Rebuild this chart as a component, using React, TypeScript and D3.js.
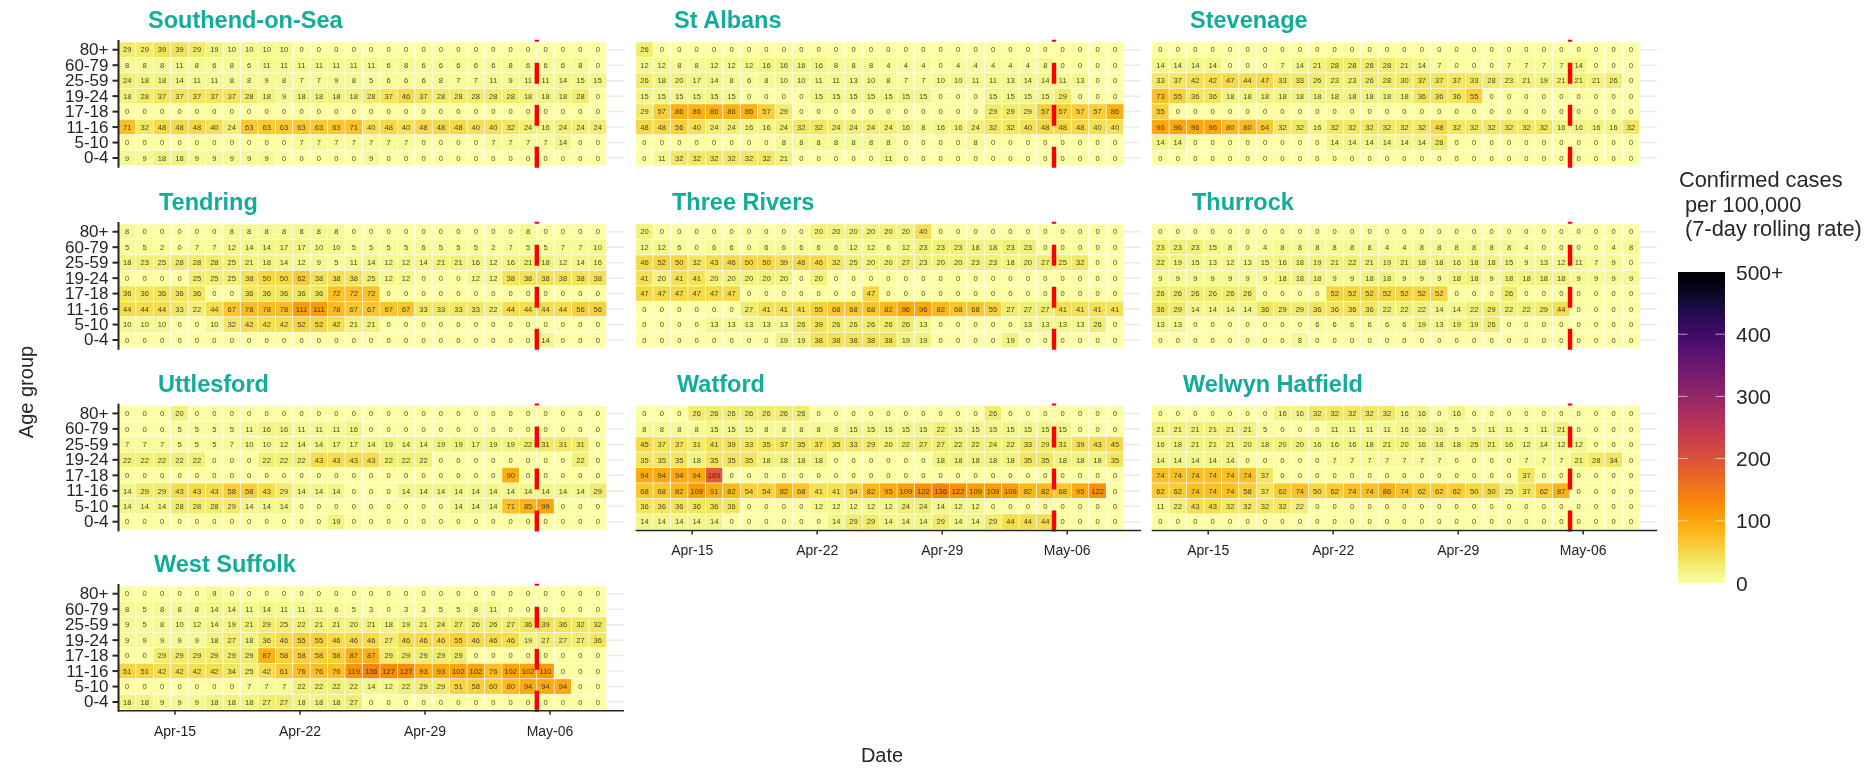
import React, { useEffect, useRef } from 'react';
import * as d3 from 'd3';

const ageGroups = ['80+', '60-79', '25-59', '19-24', '17-18', '11-16', '5-10', '0-4'];
const zeros = [0, 0, 0, 0, 0, 0, 0, 0, 0, 0, 0, 0, 0, 0, 0, 0, 0, 0, 0, 0, 0, 0, 0, 0, 0, 0, 0, 0];

// one row per age group, one value per day (Apr-12 to May-09)
const southend = [
  [29, 29, 39, 39, 29, 19, 10, 10, 10, 10, 0, 0, 0, 0, 0, 0, 0, 0, 0, 0, 0, 0, 0, 0, 0, 0, 0, 0],
  [8, 8, 8, 11, 8, 6, 8, 6, 11, 11, 11, 11, 11, 11, 11, 6, 8, 6, 6, 6, 6, 6, 8, 6, 6, 6, 8, 0],
  [24, 18, 18, 14, 11, 11, 8, 8, 9, 8, 7, 7, 9, 8, 5, 6, 6, 6, 8, 7, 7, 11, 9, 11, 11, 14, 15, 15],
  [18, 28, 37, 37, 37, 37, 37, 28, 18, 9, 18, 18, 18, 18, 28, 37, 46, 37, 28, 28, 28, 28, 28, 18, 18, 18, 28, 0],
  zeros,
  [71, 32, 48, 48, 48, 40, 24, 63, 63, 63, 63, 63, 63, 71, 40, 48, 40, 48, 48, 48, 40, 40, 32, 24, 16, 24, 24, 24],
  [0, 0, 0, 0, 0, 0, 0, 0, 0, 0, 7, 7, 7, 7, 7, 7, 7, 0, 0, 0, 0, 7, 7, 7, 7, 14, 0, 0],
  [9, 9, 18, 18, 9, 9, 9, 9, 9, 0, 0, 0, 0, 0, 9, 0, 0, 0, 0, 0, 0, 0, 0, 0, 0, 0, 0, 0],
];
const stAlbans = [
  [26, 0, 0, 0, 0, 0, 0, 0, 0, 0, 0, 0, 0, 0, 0, 0, 0, 0, 0, 0, 0, 0, 0, 0, 0, 0, 0, 0],
  [12, 12, 8, 8, 12, 12, 12, 16, 16, 16, 16, 8, 8, 8, 4, 4, 4, 0, 4, 4, 4, 4, 4, 8, 0, 0, 0, 0],
  [26, 18, 20, 17, 14, 8, 6, 8, 10, 10, 11, 11, 13, 10, 8, 7, 7, 10, 10, 11, 11, 13, 14, 14, 11, 13, 0, 0],
  [15, 15, 15, 15, 15, 15, 0, 0, 0, 0, 15, 15, 15, 15, 15, 15, 15, 0, 0, 0, 15, 15, 15, 15, 29, 0, 0, 0],
  [29, 57, 86, 86, 86, 86, 86, 57, 29, 0, 0, 0, 0, 0, 0, 0, 0, 0, 0, 0, 29, 29, 29, 57, 57, 57, 57, 86],
  [48, 48, 56, 40, 24, 24, 16, 16, 24, 32, 32, 24, 24, 24, 24, 16, 8, 16, 16, 24, 32, 32, 40, 48, 48, 48, 40, 40],
  [0, 0, 0, 0, 0, 0, 0, 0, 8, 8, 8, 8, 8, 8, 8, 0, 0, 0, 0, 8, 0, 0, 0, 0, 0, 0, 0, 0],
  [0, 11, 32, 32, 32, 32, 32, 32, 21, 0, 0, 0, 0, 0, 11, 0, 0, 0, 0, 0, 0, 0, 0, 0, 0, 0, 0, 0],
];
const stevenage = [
  zeros,
  [14, 14, 14, 14, 0, 0, 0, 7, 14, 21, 28, 28, 28, 28, 21, 14, 7, 0, 0, 0, 7, 7, 7, 7, 14, 0, 0, 0],
  [33, 37, 42, 42, 47, 44, 47, 33, 33, 26, 23, 23, 26, 28, 30, 37, 37, 37, 33, 28, 23, 21, 19, 21, 21, 21, 26, 0],
  [73, 55, 36, 36, 18, 18, 18, 18, 18, 18, 18, 18, 18, 18, 18, 36, 36, 36, 55, 0, 0, 0, 0, 0, 0, 0, 0, 0],
  [55, 0, 0, 0, 0, 0, 0, 0, 0, 0, 0, 0, 0, 0, 0, 0, 0, 0, 0, 0, 0, 0, 0, 0, 0, 0, 0, 0],
  [96, 96, 96, 96, 80, 80, 64, 32, 32, 16, 32, 32, 32, 32, 32, 32, 48, 32, 32, 32, 32, 32, 32, 16, 16, 16, 16, 32],
  [14, 14, 0, 0, 0, 0, 0, 0, 0, 0, 14, 14, 14, 14, 14, 14, 28, 0, 0, 0, 0, 0, 0, 0, 0, 0, 0, 0],
  zeros,
];
const tendring = [
  [8, 0, 0, 0, 0, 0, 8, 8, 8, 8, 8, 8, 8, 0, 0, 0, 0, 0, 0, 0, 0, 0, 0, 8, 0, 0, 0, 0],
  [5, 5, 2, 0, 7, 7, 12, 14, 14, 17, 17, 10, 10, 5, 5, 5, 5, 6, 5, 5, 5, 2, 7, 5, 5, 7, 7, 10],
  [18, 23, 25, 28, 28, 28, 25, 21, 18, 14, 12, 9, 5, 11, 14, 12, 12, 14, 21, 21, 16, 12, 16, 21, 18, 12, 14, 16],
  [0, 0, 0, 0, 25, 25, 25, 38, 50, 50, 62, 38, 38, 38, 25, 12, 12, 0, 0, 0, 12, 12, 38, 38, 38, 38, 38, 38],
  [36, 36, 36, 36, 36, 0, 0, 36, 36, 36, 36, 36, 72, 72, 72, 0, 0, 0, 0, 0, 0, 0, 0, 0, 0, 0, 0, 0],
  [44, 44, 44, 33, 22, 44, 67, 78, 78, 78, 111, 111, 78, 67, 67, 67, 67, 33, 33, 33, 33, 22, 44, 44, 44, 44, 56, 56],
  [10, 10, 10, 0, 0, 10, 32, 42, 42, 42, 52, 52, 42, 21, 21, 0, 0, 0, 0, 0, 0, 0, 0, 0, 0, 0, 0, 0],
  [0, 0, 0, 0, 0, 0, 0, 0, 0, 0, 0, 0, 0, 0, 0, 0, 0, 0, 0, 0, 0, 0, 0, 0, 14, 0, 0, 0],
];
const threeRivers = [
  [20, 0, 0, 0, 0, 0, 0, 0, 0, 0, 20, 20, 20, 20, 20, 20, 40, 0, 0, 0, 0, 0, 0, 0, 0, 0, 0, 0],
  [12, 12, 6, 0, 6, 6, 0, 6, 6, 6, 6, 6, 12, 12, 6, 12, 23, 23, 23, 18, 18, 23, 23, 0, 0, 0, 0, 0],
  [46, 52, 50, 32, 43, 46, 50, 50, 39, 46, 46, 32, 25, 20, 20, 27, 23, 20, 20, 23, 23, 18, 20, 27, 25, 32, 0, 0],
  [41, 20, 41, 41, 20, 20, 20, 20, 20, 0, 20, 0, 0, 0, 0, 0, 0, 0, 0, 0, 0, 0, 0, 0, 0, 0, 0, 0],
  [47, 47, 47, 47, 47, 47, 0, 0, 0, 0, 0, 0, 0, 47, 0, 0, 0, 0, 0, 0, 0, 0, 0, 0, 0, 0, 0, 0],
  [0, 0, 0, 0, 0, 0, 27, 41, 41, 41, 55, 68, 68, 68, 82, 96, 96, 82, 68, 68, 55, 27, 27, 27, 41, 41, 41, 41],
  [0, 0, 0, 0, 13, 13, 13, 13, 13, 26, 39, 26, 26, 26, 26, 26, 13, 0, 0, 0, 0, 0, 13, 13, 13, 13, 26, 0],
  [0, 0, 0, 0, 0, 0, 0, 0, 19, 19, 38, 38, 38, 38, 38, 19, 19, 0, 0, 0, 0, 19, 0, 0, 0, 0, 0, 0],
];
const thurrock = [
  zeros,
  [23, 23, 23, 15, 8, 0, 4, 8, 8, 8, 8, 8, 8, 4, 4, 8, 8, 8, 8, 8, 8, 4, 0, 0, 0, 0, 4, 8],
  [22, 19, 15, 13, 12, 13, 15, 16, 18, 19, 21, 22, 21, 19, 21, 18, 18, 16, 18, 18, 15, 9, 13, 12, 11, 7, 9, 0],
  [9, 9, 9, 9, 9, 9, 9, 18, 18, 18, 9, 9, 18, 18, 9, 9, 9, 18, 18, 9, 18, 18, 18, 18, 9, 9, 9, 9],
  [26, 26, 26, 26, 26, 26, 0, 0, 0, 0, 52, 52, 52, 52, 52, 52, 52, 0, 0, 0, 26, 0, 0, 0, 0, 0, 0, 0],
  [36, 29, 14, 14, 14, 14, 36, 29, 29, 36, 36, 36, 36, 22, 22, 22, 14, 14, 22, 29, 22, 22, 29, 44, 0, 0, 0, 0],
  [13, 13, 0, 0, 0, 0, 0, 0, 0, 6, 6, 6, 6, 6, 6, 19, 13, 19, 19, 26, 0, 0, 0, 0, 0, 0, 0, 0],
  [0, 0, 0, 0, 0, 0, 0, 0, 8, 0, 0, 0, 0, 0, 0, 0, 0, 0, 0, 0, 0, 0, 0, 0, 0, 0, 0, 0],
];
const uttlesford = [
  [0, 0, 0, 20, 0, 0, 0, 0, 0, 0, 0, 0, 0, 0, 0, 0, 0, 0, 0, 0, 0, 0, 0, 0, 0, 0, 0, 0],
  [0, 0, 0, 5, 5, 5, 5, 11, 16, 16, 11, 11, 11, 16, 0, 0, 0, 0, 0, 0, 0, 0, 0, 0, 0, 0, 0, 0],
  [7, 7, 7, 5, 5, 5, 7, 10, 10, 12, 14, 14, 17, 17, 14, 19, 14, 14, 19, 19, 17, 19, 19, 22, 31, 31, 31, 0],
  [22, 22, 22, 22, 22, 0, 0, 0, 22, 22, 22, 43, 43, 43, 43, 22, 22, 22, 0, 0, 0, 0, 0, 0, 0, 0, 22, 0],
  [0, 0, 0, 0, 0, 0, 0, 0, 0, 0, 0, 0, 0, 0, 0, 0, 0, 0, 0, 0, 0, 0, 90, 0, 0, 0, 0, 0],
  [14, 29, 29, 43, 43, 43, 58, 58, 43, 29, 14, 14, 14, 0, 0, 0, 14, 14, 14, 14, 14, 14, 14, 14, 14, 14, 14, 29],
  [14, 14, 14, 28, 28, 28, 29, 14, 14, 14, 0, 0, 0, 0, 0, 0, 0, 0, 0, 14, 14, 14, 71, 85, 99, 0, 0, 0],
  [0, 0, 0, 0, 0, 0, 0, 0, 0, 0, 0, 0, 19, 0, 0, 0, 0, 0, 0, 0, 0, 0, 0, 0, 0, 0, 0, 0],
];
const watford = [
  [0, 0, 0, 26, 26, 26, 26, 26, 26, 26, 0, 0, 0, 0, 0, 0, 0, 0, 0, 0, 26, 0, 0, 0, 0, 0, 0, 0],
  [8, 8, 8, 8, 15, 15, 15, 8, 8, 8, 8, 8, 15, 15, 15, 15, 15, 22, 15, 15, 15, 15, 15, 15, 15, 0, 0, 0],
  [45, 37, 37, 31, 41, 39, 33, 35, 37, 35, 37, 35, 33, 29, 20, 22, 27, 27, 22, 22, 24, 22, 33, 29, 31, 39, 43, 45],
  [35, 35, 35, 18, 35, 35, 35, 18, 18, 18, 18, 0, 0, 0, 0, 0, 0, 18, 18, 18, 18, 18, 35, 35, 18, 18, 18, 35],
  [94, 94, 94, 94, 189, 0, 0, 0, 0, 0, 0, 0, 0, 0, 0, 0, 0, 0, 0, 0, 0, 0, 0, 0, 0, 0, 0, 0],
  [68, 68, 82, 109, 91, 82, 54, 54, 82, 68, 41, 41, 54, 82, 95, 109, 122, 136, 122, 109, 109, 109, 82, 82, 68, 95, 122, 0],
  [36, 36, 36, 36, 36, 36, 0, 0, 0, 0, 12, 12, 12, 12, 12, 24, 24, 14, 12, 12, 0, 0, 0, 0, 0, 0, 0, 0],
  [14, 14, 14, 14, 14, 0, 0, 0, 0, 0, 0, 14, 29, 29, 14, 14, 14, 29, 14, 14, 29, 44, 44, 44, 0, 0, 0, 0],
];
const welwynHatfield = [
  [0, 0, 0, 0, 0, 0, 0, 16, 16, 32, 32, 32, 32, 32, 16, 16, 0, 16, 0, 0, 0, 0, 0, 0, 0, 0, 0, 0],
  [21, 21, 21, 21, 21, 21, 5, 0, 0, 0, 11, 11, 11, 11, 16, 16, 16, 5, 5, 11, 11, 5, 11, 21, 0, 0, 0, 0],
  [16, 18, 21, 21, 21, 20, 18, 20, 20, 16, 16, 16, 18, 21, 20, 16, 18, 18, 25, 21, 16, 12, 14, 12, 12, 0, 0, 0],
  [14, 14, 14, 14, 14, 0, 0, 0, 0, 0, 7, 7, 7, 7, 7, 7, 7, 0, 0, 0, 0, 7, 7, 7, 21, 28, 34, 0],
  [74, 74, 74, 74, 74, 74, 37, 0, 0, 0, 0, 0, 0, 0, 0, 0, 0, 0, 0, 0, 0, 37, 0, 0, 0, 0, 0, 0],
  [62, 62, 74, 74, 74, 58, 37, 62, 74, 50, 62, 74, 74, 86, 74, 62, 62, 62, 50, 50, 25, 37, 62, 87, 0, 0, 0, 0],
  [11, 22, 43, 43, 32, 32, 32, 32, 22, 0, 0, 0, 0, 0, 0, 0, 0, 0, 0, 0, 0, 0, 0, 0, 0, 0, 0, 0],
  zeros,
];
const westSuffolk = [
  [0, 0, 0, 0, 0, 9, 0, 0, 0, 0, 0, 0, 0, 0, 0, 0, 0, 0, 0, 0, 0, 0, 0, 0, 0, 0, 0, 0],
  [8, 5, 8, 8, 8, 14, 14, 11, 14, 11, 11, 11, 6, 5, 3, 0, 3, 3, 5, 5, 8, 11, 0, 0, 0, 0, 0, 0],
  [9, 5, 8, 10, 12, 14, 19, 21, 29, 25, 22, 21, 21, 20, 21, 18, 19, 21, 24, 27, 26, 26, 27, 36, 39, 36, 32, 32],
  [9, 9, 9, 9, 9, 18, 27, 18, 36, 46, 55, 55, 46, 46, 46, 27, 46, 46, 46, 55, 46, 46, 46, 19, 27, 27, 27, 36],
  [0, 0, 29, 29, 29, 29, 29, 29, 87, 58, 58, 58, 58, 87, 87, 29, 29, 29, 29, 29, 0, 0, 0, 0, 0, 0, 0, 0],
  [51, 51, 42, 42, 42, 42, 34, 25, 42, 61, 76, 76, 76, 119, 136, 127, 127, 93, 93, 102, 102, 76, 102, 102, 110, 0, 0, 0],
  [0, 0, 0, 0, 0, 0, 0, 7, 7, 7, 22, 22, 22, 22, 14, 12, 22, 29, 29, 51, 58, 60, 80, 94, 94, 94, 0, 0],
  [18, 18, 9, 9, 9, 18, 18, 18, 27, 27, 18, 18, 18, 27, 0, 0, 0, 0, 0, 0, 0, 0, 0, 0, 0, 0, 0, 0],
];

const areaNames = ['Southend-on-Sea', 'St Albans', 'Stevenage', 'Tendring', 'Three Rivers', 'Thurrock', 'Uttlesford', 'Watford', 'Welwyn Hatfield', 'West Suffolk'];
const areaRates = [southend, stAlbans, stevenage, tendring, threeRivers, thurrock, uttlesford, watford, welwynHatfield, westSuffolk];

const dateTicks = ['Apr-15', 'Apr-22', 'Apr-29', 'May-06'];
const dateTickDays = [3, 10, 17, 24];
const legendTicks = [0, 100, 200, 300, 400, 500];

// layout, in page pixels
const colLefts = [118.5, 635.7, 1151.7];
const rowTops = [42, 224, 405.7, 586];
const titleLefts = [148, 674, 1190, 159, 672, 1192, 158, 677, 1183, 154];
const dayStep = 17.43;
const rowStep = 15.47;
const font = '"Liberation Sans", Arial, sans-serif';

const fill = (v: number) => d3.interpolateInferno(1 - Math.min(v, 500) / 500);

const App: React.FC = () => {
  const svgRef = useRef<SVGSVGElement>(null);

  useEffect(() => {
    const svgElement = svgRef.current;
    if (!svgElement) return;
    const svg = d3.select(svgElement);
    svg.selectAll('*').remove();
    svg.style('font-family', font);

    areaNames.forEach((name, i) => {
      const col = i % 3;
      const row = Math.floor(i / 3);
      const left = colLefts[col];
      const top = rowTops[row];
      const rates = areaRates[i];

      // one empty band after the last day, the grid lines run on over it
      const x = d3.scaleBand<number>().domain(d3.range(29)).range([left, left + 29 * dayStep]);
      const y = d3.scaleBand<string>().domain(ageGroups).range([top, top + 8 * rowStep]);
      const bottom = top + 8 * rowStep;

      const g = svg.append('g').attr('class', 'panel');

      g.append('text')
        .attr('x', titleLefts[i])
        .attr('y', top - 14)
        .attr('fill', '#10ad9b')
        .style('font-size', '23.5px')
        .style('font-weight', 'bold')
        .text(name);

      g.selectAll('.grid')
        .data(ageGroups)
        .enter()
        .append('line')
        .attr('x1', left)
        .attr('x2', left + 29 * dayStep)
        .attr('y1', d => y(d)! + y.bandwidth() / 2)
        .attr('y2', d => y(d)! + y.bandwidth() / 2)
        .style('stroke', '#ecece0')
        .style('stroke-width', 1.5);

      rates.forEach((values, r) => {
        const age = ageGroups[r];
        const cells = g.append('g').selectAll('g').data(values).enter().append('g');
        cells.append('rect')
          .attr('x', (_, d) => x(d)!)
          .attr('y', y(age)!)
          .attr('width', x.bandwidth())
          .attr('height', y.bandwidth())
          .attr('fill', d => fill(d))
          .style('stroke', '#fff')
          .style('stroke-width', 0.7)
          .style('stroke-opacity', 0.75);
        cells.append('text')
          .attr('x', (_, d) => x(d)! + x.bandwidth() / 2)
          .attr('y', y(age)! + y.bandwidth() / 2)
          .attr('dy', '0.36em')
          .attr('text-anchor', 'middle')
          .attr('fill', '#2a2a1a')
          .style('font-size', '7.6px')
          .style('opacity', 0.85)
          .text(d => d);
      });

      // date marker, dashes counted from the bottom of the panel
      g.append('line')
        .attr('x1', x(24)!)
        .attr('x2', x(24)!)
        .attr('y1', bottom + 2)
        .attr('y2', top - 2.2)
        .style('stroke', '#ff0000')
        .style('stroke-width', 4.4)
        .style('stroke-dasharray', '21,21');

      if (col === 0) {
        const axisY = g.append('g')
          .attr('transform', `translate(${left},0)`)
          .call(d3.axisLeft(y).tickSize(6).tickPadding(4));
        axisY.selectAll('text').style('font-size', '17px').style('font-family', font).attr('fill', '#262626');
        axisY.selectAll('line').style('stroke', '#262626').style('stroke-width', 2);
        axisY.select('.domain').remove();
        g.append('line')
          .attr('x1', left)
          .attr('x2', left)
          .attr('y1', top - 2)
          .attr('y2', bottom + 2)
          .style('stroke', '#262626')
          .style('stroke-width', 2);
      }

      const hasDateAxis = i >= 7;
      if (hasDateAxis) {
        // the date labels sit on a slightly wider spacing than the cells
        const dateX = d3.scaleLinear().domain([3, 24]).range([left + 56, left + 431]);
        const axisX = g.append('g')
          .attr('transform', `translate(0,${bottom + 1})`)
          .call(d3.axisBottom(dateX)
            .tickValues(dateTickDays)
            .tickFormat(d => dateTicks[dateTickDays.indexOf(d as number)])
            .tickSize(4)
            .tickPadding(11));
        axisX.selectAll('text').style('font-size', '14px').style('font-family', font).attr('fill', '#1f1f1f');
        axisX.selectAll('line').style('stroke', '#262626').style('stroke-width', 1.5);
        axisX.select('.domain').remove();
        g.append('line')
          .attr('x1', left)
          .attr('x2', left + 29 * dayStep)
          .attr('y1', bottom + 1)
          .attr('y2', bottom + 1)
          .style('stroke', '#262626')
          .style('stroke-width', 1.5);
      }
    });

    svg.append('text')
      .attr('transform', 'translate(33,392) rotate(-90)')
      .attr('text-anchor', 'middle')
      .attr('fill', '#262626')
      .style('font-size', '20px')
      .text('Age group');

    svg.append('text')
      .attr('x', 882)
      .attr('y', 762)
      .attr('text-anchor', 'middle')
      .attr('fill', '#262626')
      .style('font-size', '20px')
      .text('Date');

    // legend
    const legendY = d3.scaleLinear().domain([0, 500]).range([583, 272]);
    const defs = svg.append('defs');
    const gradient = defs.append('linearGradient')
      .attr('id', 'rate-ramp')
      .attr('x1', 0).attr('x2', 0).attr('y1', 1).attr('y2', 0);
    d3.range(0, 1.001, 0.05).forEach(t => {
      gradient.append('stop').attr('offset', t).attr('stop-color', d3.interpolateInferno(1 - t));
    });

    const legend = svg.append('g');
    ['Confirmed cases', ' per 100,000', ' (7-day rolling rate)'].forEach((line, i) => {
      legend.append('text')
        .attr('x', i === 0 ? 1679 : 1685)
        .attr('y', 187 + i * 24.5)
        .attr('fill', '#262626')
        .style('font-size', '21.8px')
        .text(line.trim());
    });
    legend.append('rect')
      .attr('x', 1678)
      .attr('y', legendY(500))
      .attr('width', 47)
      .attr('height', legendY(0) - legendY(500))
      .attr('fill', 'url(#rate-ramp)');
    legendTicks.forEach(t => {
      if (t > 0 && t < 500) {
        [[1678, 1687.5], [1715.5, 1725]].forEach(([a, b]) => {
          legend.append('line')
            .attr('x1', a).attr('x2', b)
            .attr('y1', legendY(t)).attr('y2', legendY(t))
            .style('stroke', '#fff')
            .style('stroke-opacity', 0.6)
            .style('stroke-width', 1);
        });
      }
      legend.append('text')
        .attr('x', 1736)
        .attr('y', legendY(t))
        .attr('dy', '0.36em')
        .attr('fill', '#262626')
        .style('font-size', '21px')
        .text(t === 500 ? '500+' : t);
    });
  }, []);

  return (
    <svg
      ref={svgRef}
      width={1874}
      height={768}
      style={{ position: 'absolute', left: 0, top: 0, filter: 'blur(0.45px)' }}
    />
  );
};

export default App;
